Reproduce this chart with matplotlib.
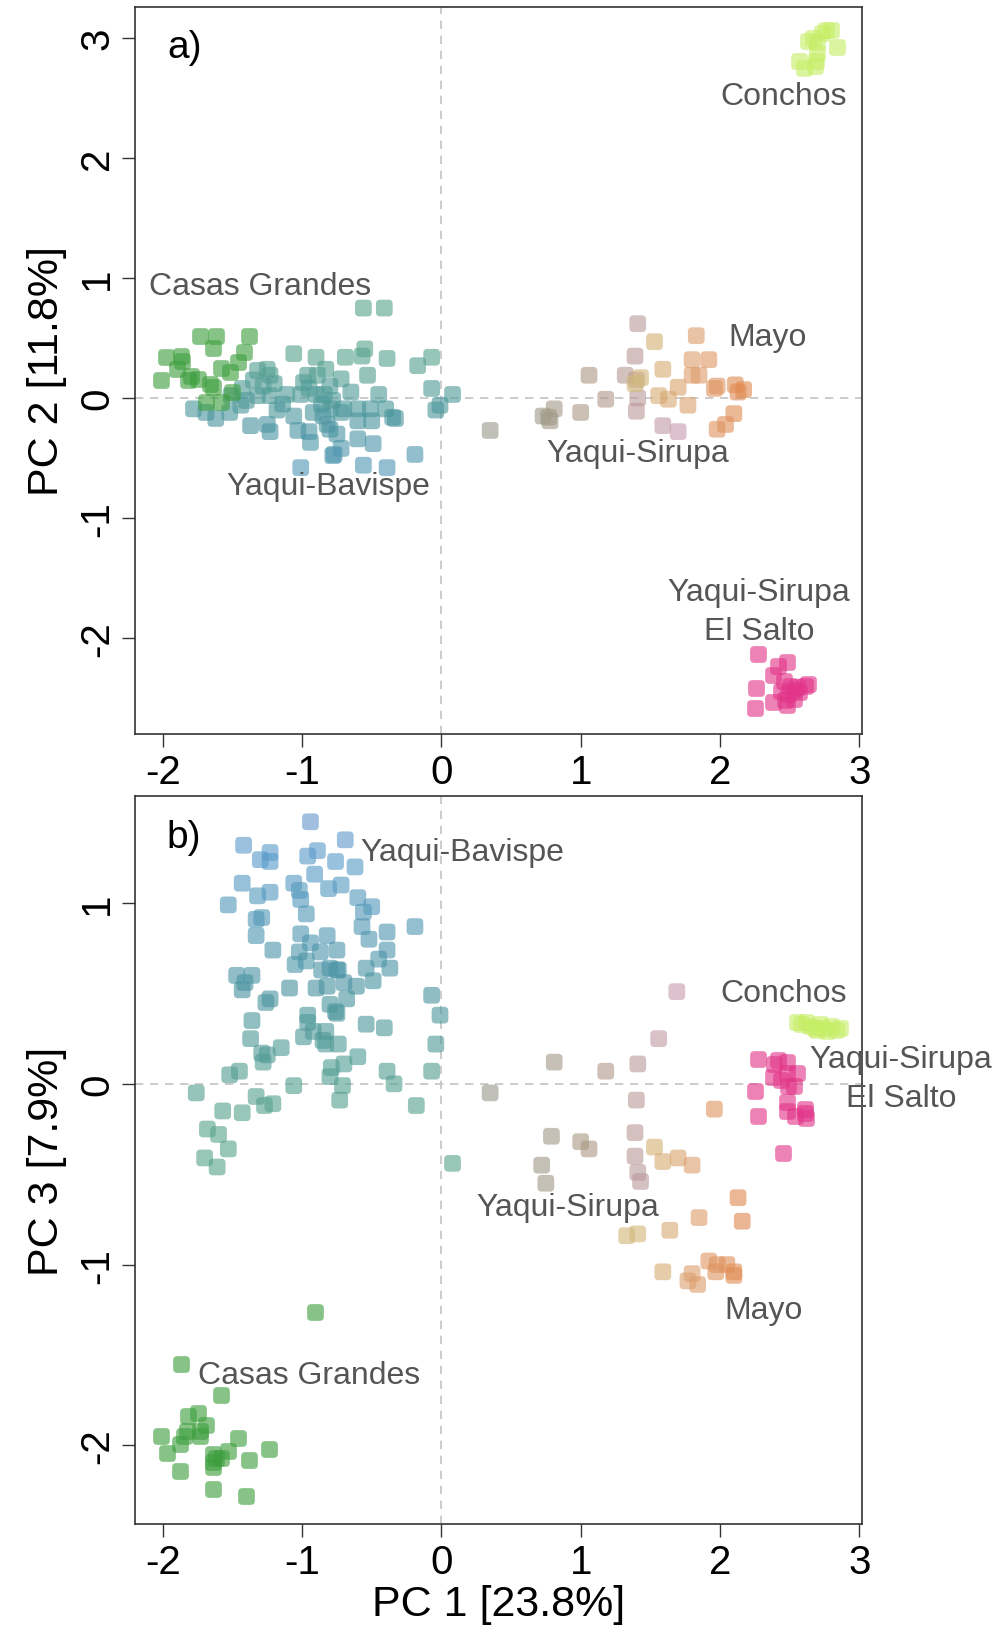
import matplotlib
matplotlib.use("Agg")
import matplotlib.pyplot as plt
from matplotlib.path import Path
from matplotlib.colors import LinearSegmentedColormap
import numpy as np

plt.rcParams["font.family"] = ["Liberation Sans", "DejaVu Sans"]
plt.rcParams["axes.unicode_minus"] = False

# ---- panel a: PC1 vs PC2 ----
cg_a_x = [-1.73, -1.62, -1.38, -1.64, -1.98, -1.87, -1.86, -1.90, -2.01, -1.82, -1.75,
          -1.66, -1.64, -1.58, -1.52, -1.46, -1.42, -1.69, -1.58, -1.80, -1.50]
cg_a_y = [0.52, 0.52, 0.52, 0.42, 0.34, 0.35, 0.31, 0.24, 0.15, 0.15, 0.16,
          0.12, 0.09, 0.25, 0.22, 0.30, 0.38, -0.03, -0.03, 0.18, 0.05]

bav_a_x = [-0.56, -0.41, -1.06, -0.90, -0.69, -0.57, -0.55, -0.39, -0.17, -0.07, -0.07, 0.08, -0.01, -0.04,
           -1.32, -1.25, -1.23, -0.96, -0.99, -0.89, -0.83, -0.72, -0.80, -0.53,
           -1.11, -1.01, -0.90, -0.84, -1.43, -1.51, -1.32, -1.23, -1.14,
           -1.78, -1.69, -1.62, -1.52, -1.44, -1.37, -1.25, -1.23,
           -1.06, -1.03, -0.95, -0.94, -0.82, -0.80, -0.77, -0.72,
           -0.80, -0.72, -0.70, -0.60, -0.60, -0.51, -0.50, -0.45,
           -0.40, -0.35, -0.33, -0.60, -0.49, -1.01, -0.56, -0.39, -0.19, -0.78,
           -1.28, -1.20, -0.95, -0.86, -0.78, -1.40, -0.92, -0.85, -0.75, -1.18, -0.65, -1.35]
bav_a_y = [0.75, 0.75, 0.37, 0.34, 0.34, 0.35, 0.41, 0.33, 0.27, 0.34, 0.08, 0.03, -0.06, -0.10,
           0.23, 0.24, 0.19, 0.19, 0.13, 0.19, 0.24, 0.16, 0.10, 0.19,
           0.03, 0.03, 0.03, 0.03, 0.08, 0.02, 0.02, 0.02, -0.05,
           -0.09, -0.12, -0.17, -0.12, -0.06, -0.23, -0.22, -0.28,
           -0.15, -0.27, -0.28, -0.37, -0.22, -0.26, -0.47, -0.42,
           -0.09, -0.12, -0.09, -0.09, -0.19, -0.09, -0.19, 0.03,
           -0.09, -0.16, -0.17, -0.34, -0.38, -0.58, -0.56, -0.58, -0.47, -0.48,
           0.10, 0.12, 0.08, -0.05, -0.02, -0.02, -0.12, -0.15, -0.30, -0.10, 0.05, 0.15]

sir_a_x = [0.35, 0.73, 0.77, 0.81, 0.78, 1.00, 1.06, 1.18, 1.41, 1.40, 1.59, 1.70, 1.41, 1.32, 1.39, 1.40]
sir_a_y = [-0.27, -0.15, -0.16, -0.09, -0.19, -0.12, 0.19, -0.01, 0.00, -0.11, -0.23, -0.28, 0.62, 0.19, 0.35, 0.15]

mayo_a_x = [1.53, 1.43, 1.39, 1.56, 1.59, 1.63, 1.70, 1.77, 1.83, 1.80, 1.92, 1.80, 1.85,
            1.98, 1.96, 2.11, 2.13, 2.17, 2.10, 2.04, 1.98]
mayo_a_y = [0.47, 0.17, 0.12, 0.02, 0.24, -0.01, 0.09, -0.06, 0.52, 0.32, 0.32, 0.19, 0.19,
            0.10, 0.08, 0.11, 0.05, 0.07, -0.13, -0.22, -0.26]

con_a_x = [2.57, 2.60, 2.67, 2.70, 2.69, 2.68, 2.73, 2.76, 2.80, 2.84, 2.70, 2.63]
con_a_y = [2.81, 2.75, 3.00, 2.88, 2.81, 2.77, 3.04, 3.07, 3.07, 2.93, 2.97, 2.98]

sal_a_x = [2.27, 2.26, 2.25, 2.42, 2.48, 2.38, 2.46, 2.53, 2.61, 2.63, 2.49, 2.38, 2.48,
           2.53, 2.44, 2.55, 2.50, 2.47, 2.57]
sal_a_y = [-2.13, -2.42, -2.58, -2.23, -2.20, -2.31, -2.36, -2.43, -2.40, -2.38, -2.47, -2.53, -2.56,
           -2.51, -2.44, -2.41, -2.40, -2.52, -2.45]

# ---- panel b: PC1 vs PC3 ----
cg_b_x = [-1.87, -1.58, -1.75, -1.82, -1.69, -1.73, -1.73, -1.83, -1.85, -1.88, -2.01, -1.97,
          -1.88, -1.64, -1.62, -1.58, -1.64, -1.64, -1.53, -1.46, -1.38, -1.24, -1.64, -1.40, -0.91]
cg_b_y = [-1.55, -1.72, -1.82, -1.84, -1.89, -1.92, -1.95, -1.92, -1.95, -1.99, -1.95, -2.04,
          -2.14, -2.05, -2.07, -2.07, -2.09, -2.12, -2.03, -1.96, -2.08, -2.02, -2.24, -2.28, -1.26]

bav_b_x = [-0.94, -1.42, -0.69, -1.30, -1.23, -1.23, -0.96, -0.89, -0.76, -0.62, -0.91, -1.43,
           -1.06, -1.02, -1.01, -0.97, -1.32, -1.23, -0.81, -0.72, -0.60, -1.53, -0.50, -0.56,
           -1.33, -1.29, -1.33, -0.57, -0.52, -0.39, -0.39, -0.19,
           -1.01, -0.94, -0.82, -1.21, -1.02, -1.05, -0.97, -0.87, -0.86, -0.75,
           -0.80, -0.75, -0.74, -0.54, -0.45, -0.37, -0.49,
           -1.47, -1.36, -1.41, -1.43, -1.09, -0.90, -0.82, -0.70, -0.61, -0.68,
           -1.26, -1.23, -0.80, -0.76, -0.75, -1.36, -0.96, -0.96, -0.92, -0.54, -0.41,
           -0.07, -0.01, -0.04, -0.07, -1.37, -0.99, -0.83, -0.85, -0.83, -0.74,
           -1.15, -1.29, -1.25, -1.28, -0.70, -0.60, -0.79, -0.80,
           -1.45, -1.52, -0.39, -0.34, -1.06, -0.71,
           -1.76, -1.33, -1.27, -1.21, -0.73, -0.18, -1.57, -1.43,
           -1.68, -1.60, -1.53, -1.70, -1.61, 0.08]
bav_b_y = [1.45, 1.32, 1.35, 1.24, 1.28, 1.23, 1.26, 1.29, 1.23, 1.20, 1.16, 1.11,
           1.11, 1.07, 1.02, 0.94, 1.04, 1.06, 1.08, 1.10, 1.03, 0.99, 0.98, 0.95,
           0.91, 0.92, 0.82, 0.87, 0.80, 0.84, 0.74, 0.87,
           0.83, 0.78, 0.82, 0.74, 0.73, 0.66, 0.68, 0.73, 0.63, 0.74,
           0.64, 0.63, 0.63, 0.64, 0.69, 0.64, 0.57,
           0.60, 0.60, 0.56, 0.52, 0.53, 0.53, 0.54, 0.56, 0.54, 0.47,
           0.45, 0.47, 0.44, 0.40, 0.39, 0.35, 0.38, 0.34, 0.29, 0.33, 0.31,
           0.49, 0.38, 0.22, 0.07, 0.25, 0.26, 0.29, 0.24, 0.22, 0.22,
           0.20, 0.17, 0.16, 0.12, 0.11, 0.15, 0.09, 0.04,
           0.07, 0.05, 0.07, 0.00, -0.01, -0.01,
           -0.05, -0.07, -0.12, -0.11, -0.09, -0.12, -0.15, -0.16,
           -0.25, -0.28, -0.36, -0.41, -0.46, -0.44]

sir_b_x = [0.35, 0.81, 1.18, 1.41, 1.56, 1.69, 1.40, 0.79, 1.00, 1.06, 0.72, 0.75, 1.39, 1.39, 1.41, 1.43]
sir_b_y = [-0.05, 0.12, 0.07, 0.11, 0.25, 0.51, -0.09, -0.29, -0.32, -0.36, -0.45, -0.55, -0.27, -0.40, -0.49, -0.54]

mayo_b_x = [1.96, 1.53, 1.59, 1.70, 1.80, 2.13, 2.16, 1.85, 1.64, 1.33, 1.41, 1.59, 1.92, 1.98,
            2.05, 1.97, 2.10, 2.10, 1.80, 1.77, 1.84]
mayo_b_y = [-0.14, -0.35, -0.43, -0.41, -0.45, -0.63, -0.76, -0.74, -0.81, -0.84, -0.83, -1.04, -0.98, -1.00,
            -1.00, -1.04, -1.04, -1.06, -1.05, -1.09, -1.11]

con_b_x = [2.55, 2.58, 2.62, 2.65, 2.68, 2.70, 2.72, 2.74, 2.77, 2.80, 2.83, 2.86]
con_b_y = [0.34, 0.33, 0.34, 0.32, 0.31, 0.30, 0.33, 0.31, 0.29, 0.32, 0.30, 0.31]

sal_b_x = [2.27, 2.25, 2.27, 2.45, 2.39, 2.42, 2.48, 2.38, 2.48, 2.55, 2.44, 2.49, 2.53,
           2.48, 2.48, 2.54, 2.61, 2.62, 2.61]
sal_b_y = [0.14, -0.04, -0.18, -0.38, 0.11, 0.13, 0.12, 0.04, 0.06, 0.06, 0.02, -0.01, -0.01,
           -0.10, -0.15, -0.18, -0.16, -0.19, -0.14]

# ---- rounded square marker ----
r = 0.5
a = 1 - r
verts = [(-a, -1), (a, -1), (1, -1), (1, -a), (1, a), (1, 1), (a, 1), (-a, 1),
         (-1, 1), (-1, a), (-1, -a), (-1, -1), (-a, -1), (-a, -1)]
codes = [Path.MOVETO, Path.LINETO, Path.CURVE3, Path.CURVE3, Path.LINETO, Path.CURVE3, Path.CURVE3,
         Path.LINETO, Path.CURVE3, Path.CURVE3, Path.LINETO, Path.CURVE3, Path.CURVE3, Path.CLOSEPOLY]
rsq = Path(verts, codes)

bav_cmap = LinearSegmentedColormap.from_list("bav", ["#5aa58c", "#4a94a0", "#5a9ccb", "#8a8cc6"])
sir_cmap = LinearSegmentedColormap.from_list("sir", ["#9a9a8e", "#ad9a84", "#c89cb0"])
mayo_cmap = LinearSegmentedColormap.from_list("mayo", ["#d2b87a", "#dea070", "#e0884e"])

MS = 145
AL = 0.62
TXT = "#555555"

fig = plt.figure(figsize=(10.02, 16.31), dpi=100)
ax1 = fig.add_axes([0.1347, 0.5494, 0.7256, 0.4457])
ax2 = fig.add_axes([0.1347, 0.0650, 0.7256, 0.4463])


def pts(ax, x, y, c):
    ax.scatter(x, y, s=MS, marker=rsq, c=c, alpha=AL, linewidths=0, zorder=3)


# panel a
pts(ax1, bav_a_x, bav_a_y, bav_cmap(np.clip(0.22 - 0.5 * np.array(bav_a_y), 0, 1)))
pts(ax1, cg_a_x, cg_a_y, "#3d9e3d")
pts(ax1, sir_a_x, sir_a_y, sir_cmap(np.clip((np.array(sir_a_x) - 0.5) / 1.2, 0, 1)))
pts(ax1, mayo_a_x, mayo_a_y, mayo_cmap(np.clip((np.array(mayo_a_x) - 1.4) / 0.8, 0, 1)))
pts(ax1, con_a_x, con_a_y, "#c6ee66")
pts(ax1, sal_a_x, sal_a_y, "#e2358a")

# panel b
pts(ax2, bav_b_x, bav_b_y, bav_cmap(np.clip(0.1 + 0.45 * np.array(bav_b_y), 0, 1)))
pts(ax2, cg_b_x, cg_b_y, "#3d9e3d")
pts(ax2, sir_b_x, sir_b_y, sir_cmap(np.clip((np.array(sir_b_x) - 0.5) / 1.2, 0, 1)))
pts(ax2, mayo_b_x, mayo_b_y, mayo_cmap(np.clip((np.array(mayo_b_x) - 1.4) / 0.8, 0, 1)))
pts(ax2, con_b_x, con_b_y, "#c6ee66")
pts(ax2, sal_b_x, sal_b_y, "#e2358a")

ax1.set_ylim(-2.80, 3.26)
ax1.set_yticks([-2, -1, 0, 1, 2, 3])
ax2.set_ylim(-2.435, 1.592)
ax2.set_yticks([-2, -1, 0, 1])

for ax in (ax1, ax2):
    ax.axhline(0, color="#c4c4c4", lw=1.2, ls=(0, (5, 4)), zorder=1)
    ax.axvline(0, color="#c4c4c4", lw=1.2, ls=(0, (5, 4)), zorder=1)
    ax.set_xlim(-2.2, 3.02)
    ax.set_xticks([-2, -1, 0, 1, 2, 3])
    ax.tick_params(length=9.5, width=1.0, color="#333333", labelsize=29, pad=4)
    for sp in ax.spines.values():
        sp.set_color("#333333")
        sp.set_linewidth(1.2)
    for lab in ax.get_yticklabels():
        lab.set_rotation(90)
        lab.set_va("center")

ax1.set_ylabel("PC 2 [11.8%]", fontsize=31, labelpad=8)
ax2.set_ylabel("PC 3 [7.9%]", fontsize=31, labelpad=8)
ax2.set_xlabel("PC 1 [23.8%]", fontsize=31, labelpad=2)

ax1.text(0.044, 0.945, "a)", transform=ax1.transAxes, fontsize=28, va="center")
ax2.text(0.044, 0.944, "b)", transform=ax2.transAxes, fontsize=28, va="center")

fs = 23
ax1.text(2.46, 2.52, "Conchos", fontsize=fs, color=TXT, ha="center", va="center")
ax1.text(-1.30, 0.93, "Casas Grandes", fontsize=fs, color=TXT, ha="center", va="center")
ax1.text(2.34, 0.51, "Mayo", fontsize=fs, color=TXT, ha="center", va="center")
ax1.text(1.41, -0.46, "Yaqui-Sirupa", fontsize=fs, color=TXT, ha="center", va="center")
ax1.text(-0.81, -0.73, "Yaqui-Bavispe", fontsize=fs, color=TXT, ha="center", va="center")
ax1.text(2.28, -1.78, "Yaqui-Sirupa\nEl Salto", fontsize=fs, color=TXT, ha="center", va="center",
         multialignment="center", linespacing=1.4)

ax2.text(0.15, 1.28, "Yaqui-Bavispe", fontsize=fs, color=TXT, ha="center", va="center")
ax2.text(2.46, 0.50, "Conchos", fontsize=fs, color=TXT, ha="center", va="center")
ax2.text(3.30, 0.03, "Yaqui-Sirupa\nEl Salto", fontsize=fs, color=TXT, ha="center", va="center",
         multialignment="center", linespacing=1.4, clip_on=False)
ax2.text(0.91, -0.68, "Yaqui-Sirupa", fontsize=fs, color=TXT, ha="center", va="center")
ax2.text(2.31, -1.25, "Mayo", fontsize=fs, color=TXT, ha="center", va="center")
ax2.text(-0.95, -1.61, "Casas Grandes", fontsize=fs, color=TXT, ha="center", va="center")

fig.savefig("out.png", dpi=100)
